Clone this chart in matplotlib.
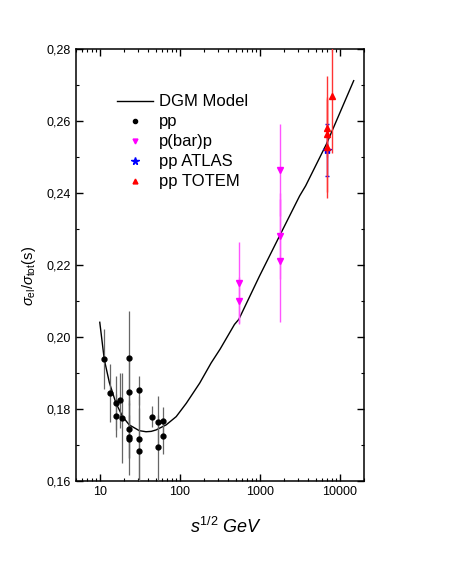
import numpy as np
import matplotlib
matplotlib.use("Agg")
import matplotlib.pyplot as plt
from matplotlib.lines import Line2D
from matplotlib.ticker import FuncFormatter, MultipleLocator, LogLocator, NullFormatter

plt.rcParams['font.family'] = ['Liberation Sans', 'DejaVu Sans']
plt.rcParams['mathtext.fontset'] = 'custom'
plt.rcParams['mathtext.rm'] = 'Liberation Sans'
plt.rcParams['mathtext.it'] = 'Liberation Sans:italic'

# ============================================================
# Data
# ============================================================

# DGM model curve
model_x = [10, 11.4, 13.2, 15.9, 19.3, 23.4, 31.2, 37.9, 44.0, 50.6, 67.6, 90.4,
           120.8, 177.7, 247, 321, 484, 548, 993, 1774, 3162, 3760, 6840, 15000]
model_y = [0.2041, 0.1937, 0.1873, 0.1817, 0.1779, 0.1756, 0.1740, 0.1737, 0.1738,
           0.1742, 0.1756, 0.1779, 0.1816, 0.1872, 0.1928, 0.1967, 0.2035,
           0.2049, 0.2169, 0.2281, 0.2392, 0.2420, 0.2536, 0.2712]

# pp
pp_x = [11.3, 13.4, 16.1, 16.1, 17.7, 19.1, 23.5, 23.5, 23.5, 23.5, 23.5,
        30.6, 30.6, 30.6, 44.7, 52.8, 52.8, 62.5, 62.5]
pp_y = [0.1938, 0.1844, 0.1816, 0.1781, 0.1824, 0.1775, 0.1941, 0.1847,
        0.1744, 0.1723, 0.1716, 0.1852, 0.1717, 0.1684, 0.1779, 0.1765,
        0.1694, 0.1766, 0.1725]
pp_err = [0.0083, 0.008, 0.0075, 0.006, 0.0077, 0.0125, 0.013, 0.010,
          0.008, 0.006, 0.010, 0.004, 0.012, 0.012, 0.003, 0.007,
          0.009, 0.004, 0.005]

# p(bar)p
pbp_x = [546, 546, 1800, 1800, 1800]
pbp_y = [0.2151, 0.2101, 0.2464, 0.2281, 0.2212]
pbp_err = [0.0113, 0.0065, 0.0128, 0.012, 0.0171]

# pp ATLAS
atlas_x = [7000]
atlas_y = [0.2519]
atlas_err = [0.0072]

# pp TOTEM
totem_x = [7000, 7000, 7000, 8000]
totem_y = [0.2580, 0.2564, 0.2527, 0.2669]
totem_err = [0.008, 0.016, 0.014, 0.0158]

# ============================================================
# Plot
# ============================================================

fig = plt.figure(figsize=(4.49, 5.81), dpi=100)
ax = fig.add_axes([0.1686, 0.172, 0.6414, 0.7437])

ax.errorbar(pp_x, pp_y, yerr=pp_err, fmt='o', color='black', ecolor='0.4',
            elinewidth=0.9, markersize=3.5, capsize=0, zorder=3)
ax.errorbar(pbp_x, pbp_y, yerr=pbp_err, fmt='v', color='#ff00ff',
            ecolor='#ff55ff', elinewidth=1.0, markersize=4, capsize=0, zorder=3)
ax.errorbar(atlas_x, atlas_y, yerr=atlas_err, fmt='*', color='#0000ff',
            ecolor='#0000ff', elinewidth=1.0, markersize=6, capsize=1.5, zorder=4)
ax.errorbar(totem_x, totem_y, yerr=totem_err, fmt='^', color='#ff0000',
            ecolor='#ff3333', elinewidth=1.0, markersize=4, capsize=0, zorder=5)
ax.plot(model_x, model_y, color='black', linewidth=1.0, zorder=2)

ax.set_xscale('log')
ax.set_xlim(5, 20000)
ax.set_ylim(0.16, 0.28)

ax.yaxis.set_major_locator(MultipleLocator(0.02))
ax.yaxis.set_minor_locator(MultipleLocator(0.01))
ax.yaxis.set_major_formatter(FuncFormatter(lambda v, p: f"{v:.2f}".replace('.', ',')))
ax.xaxis.set_major_locator(LogLocator(base=10, numticks=10))
ax.xaxis.set_minor_locator(LogLocator(base=10, subs=np.arange(2, 10), numticks=20))
ax.xaxis.set_minor_formatter(NullFormatter())
ax.xaxis.set_major_formatter(FuncFormatter(lambda v, p: f"{int(round(v))}"))

ax.tick_params(which='both', direction='in', top=True, right=True, labelsize=9)
ax.tick_params(which='major', length=5, width=1.0)
ax.tick_params(which='minor', length=2.5, width=0.8)
for s in ax.spines.values():
    s.set_linewidth(1.1)

fig.text(226 / 449, 1 - 527 / 581, r'$s^{1/2}$ $GeV$', fontsize=13,
         ha='center', va='center')
fig.text(29.5 / 449, 1 - 275.7 / 581, r'$\sigma_{\rm el}/\sigma_{\rm tot}\rm(s)$',
         fontsize=10.5, rotation=90, ha='center', va='center')

handles = [
    Line2D([], [], color='black', linewidth=1.0),
    Line2D([], [], color='black', marker='o', linestyle='none', markersize=3),
    Line2D([], [], color='#ff00ff', marker='v', linestyle='none', markersize=3.5),
    Line2D([], [], color='#0000ff', marker='*', linestyle='none', markersize=5.5),
    Line2D([], [], color='#ff0000', marker='^', linestyle='none', markersize=3.5),
]
labels = ['DGM Model', 'pp', 'p(bar)p', 'pp ATLAS', 'pp TOTEM']
ax.legend(handles, labels, loc='upper left', bbox_to_anchor=(0.142, 0.895),
          frameon=False, fontsize=12, handlelength=2.2, handletextpad=0.32,
          labelspacing=0.3, borderpad=0, borderaxespad=0)

fig.savefig('out.png', dpi=100)
